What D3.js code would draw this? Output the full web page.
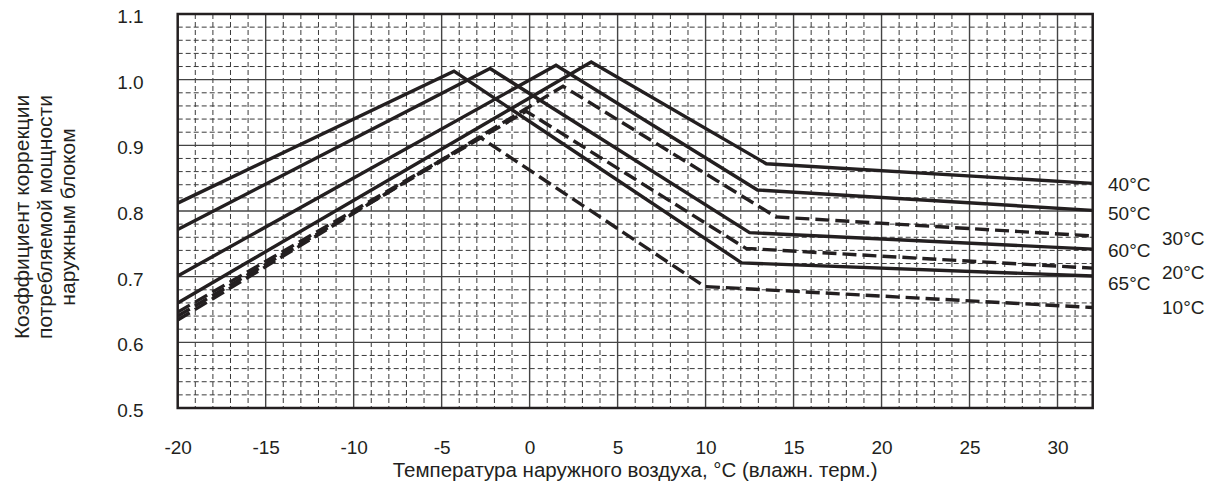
<!DOCTYPE html>
<html><head><meta charset="utf-8">
<script src="https://cdn.jsdelivr.net/npm/d3@7"></script>
<style>
html,body{margin:0;padding:0;background:#fff;}
svg{display:block;font-family:"Liberation Sans",Arial,sans-serif;}
</style></head>
<body><svg id="chart" width="1210" height="488"></svg>
<script>
// ---- data ----
const xTicks = [-20,-15,-10,-5,0,5,10,15,20,25,30];
const yTicks = [0.5,0.6,0.7,0.8,0.9,1.0,1.1];
const seriesNames = ["40°C","50°C","60°C","65°C","30°C","20°C","10°C"];
const seriesDashed = [false,false,false,false,true,true,true];
// breakpoints: [outdoor temp, factor]
const s40 = [[-20,0.660],[3.5,1.027],[13.45,0.872],[32,0.842]];
const s50 = [[-20,0.701],[1.5,1.022],[12.95,0.832],[32,0.801]];
const s60 = [[-20,0.772],[-2.25,1.017],[12.5,0.767],[32,0.742]];
const s65 = [[-20,0.812],[-4.3,1.013],[12.05,0.721],[32,0.701]];
const s30 = [[-20,0.634],[1.9,0.990],[14.0,0.791],[32,0.762]];
const s20 = [[-20,0.640],[-0.2,0.952],[12.3,0.743],[32,0.713]];
const s10 = [[-20,0.646],[-2.8,0.912],[9.95,0.685],[32,0.653]];
const seriesData = [s40,s50,s60,s65,s30,s20,s10];
// label anchor (factor value) and column for the right-hand labels
const labelValue = [0.841,0.797,0.7405,0.690,0.759,0.707,0.654];
const labelColumn = [0,0,0,0,1,1,1];
const xTitle = "Температура наружного воздуха, °C (влажн. терм.)";
const yTitle = ["Коэффициент коррекции","потребляемой мощности","наружным блоком"];

// ---- chart ----
const svg = d3.select("#chart");
const ink = "#231f20";
const L = 177.7, R = 1092.7, T = 14, B = 408;
const x = d3.scaleLinear().domain([-20,32]).range([L,R]);
const y = d3.scaleLinear().domain([0.5,1.1]).range([B,T]);

const grid = svg.append("g");
// minor verticals
const minorX = d3.range(-19,32).filter(v => v % 5 !== 0);
grid.selectAll(".mx").data(minorX).join("line")
  .attr("x1",d=>x(d)).attr("x2",d=>x(d)).attr("y1",T).attr("y2",B)
  .attr("stroke","#3a3a3a").attr("stroke-width",1).attr("stroke-dasharray","5,3");
// minor horizontals
const minorY = d3.range(0,31).map(i => 0.5 + i*0.02).filter((v,i)=> i % 5 !== 0);
grid.selectAll(".my").data(minorY).join("line")
  .attr("x1",L).attr("x2",R).attr("y1",d=>y(d)).attr("y2",d=>y(d))
  .attr("stroke","#3a3a3a").attr("stroke-width",1).attr("stroke-dasharray","5,3");
// major
grid.selectAll(".Mx").data(xTicks.slice(1)).join("line")
  .attr("x1",d=>x(d)).attr("x2",d=>x(d)).attr("y1",T).attr("y2",B)
  .attr("stroke","#444").attr("stroke-width",1.4);
grid.selectAll(".My").data(yTicks.slice(1,-1)).join("line")
  .attr("x1",L).attr("x2",R).attr("y1",d=>y(d)).attr("y2",d=>y(d))
  .attr("stroke","#444").attr("stroke-width",1.4);

// series
const line = d3.line().x(d=>x(d[0])).y(d=>y(d[1]));
svg.append("g").selectAll("path").data(seriesData).join("path")
  .attr("d",line).attr("fill","none").attr("stroke",ink)
  .attr("stroke-width",3.4).attr("stroke-linejoin","miter")
  .attr("stroke-dasharray",(d,i)=> seriesDashed[i] ? "14,6" : null);

// frame
svg.append("rect").attr("x",L).attr("y",T).attr("width",R-L).attr("height",B-T)
  .attr("fill","none").attr("stroke",ink).attr("stroke-width",2.5);

// axes
const xAxis = svg.append("g").attr("transform",`translate(0,${B})`)
  .call(d3.axisBottom(x).tickValues(xTicks).tickSize(0).tickPadding(33).tickFormat(d => String(d)));
const yAxis = svg.append("g").attr("transform",`translate(${L},0)`)
  .call(d3.axisLeft(y).tickValues(yTicks).tickSize(0).tickPadding(34).tickFormat(d => d.toFixed(1)));
[xAxis,yAxis].forEach(a=>{
  a.select(".domain").remove();
  a.selectAll("text").attr("font-size",19).attr("fill",ink)
   .attr("font-family","'Liberation Sans',Arial,sans-serif");
});
yAxis.selectAll("text").attr("dy","0.45em");

// right labels
svg.append("g").selectAll("text").data(seriesNames).join("text")
  .attr("x",(d,i)=> labelColumn[i] ? 1162 : 1108)
  .attr("y",(d,i)=> y(labelValue[i]))
  .attr("dy","0.35em").attr("font-size",19).attr("fill",ink).text(d=>d);

// titles
svg.append("text").attr("x",(L+R)/2).attr("y",470).attr("dy","0.35em")
  .attr("text-anchor","middle").attr("font-size",20.5).attr("fill",ink).text(xTitle);
const yt = svg.append("text").attr("transform","translate(45,217) rotate(-90)")
  .attr("text-anchor","middle").attr("font-size",21).attr("fill",ink);
yTitle.forEach((t,i)=> yt.append("tspan").attr("x",0).attr("y",(i-1)*23).attr("dy","0.35em").text(t));
</script></body></html>
